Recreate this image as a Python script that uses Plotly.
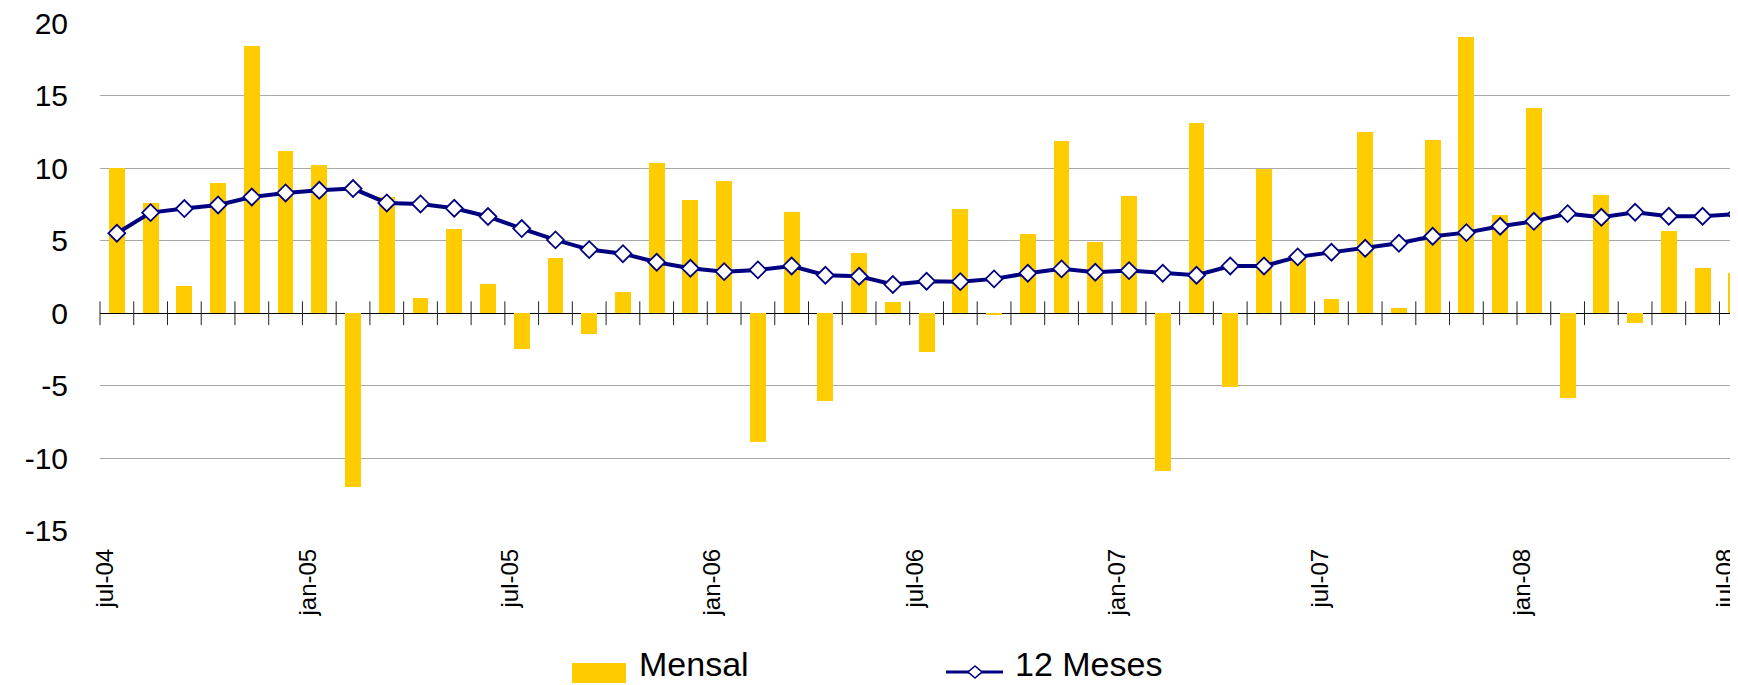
import plotly.graph_objects as go
import numpy as np

months = ['jul-04', 'ago-04', 'set-04', 'out-04', 'nov-04', 'dez-04',
          'jan-05', 'fev-05', 'mar-05', 'abr-05', 'mai-05', 'jun-05',
          'jul-05', 'ago-05', 'set-05', 'out-05', 'nov-05', 'dez-05',
          'jan-06', 'fev-06', 'mar-06', 'abr-06', 'mai-06', 'jun-06',
          'jul-06', 'ago-06', 'set-06', 'out-06', 'nov-06', 'dez-06',
          'jan-07', 'fev-07', 'mar-07', 'abr-07', 'mai-07', 'jun-07',
          'jul-07', 'ago-07', 'set-07', 'out-07', 'nov-07', 'dez-07',
          'jan-08', 'fev-08', 'mar-08', 'abr-08', 'mai-08', 'jun-08',
          'jul-08']

mensal = [10.0, 7.6, 1.9, 9.0, 18.4, 11.2,
          10.2, -12.0, 8.05, 1.06, 5.8, 2.0,
          -2.44, 3.8, -1.43, 1.45, 10.37, 7.82,
          9.1, -8.86, 6.99, -6.07, 4.18, 0.76,
          -2.64, 7.2, -0.1, 5.47, 11.86, 4.9,
          8.11, -10.9, 13.1, -5.06, 9.98, 3.9,
          0.99, 12.48, 0.37, 11.98, 19.03, 6.76,
          14.16, -5.86, 8.18, -0.64, 5.7, 3.13,
          2.78]

doze_meses = [5.52, 6.94, 7.22, 7.47, 8.02, 8.3,
              8.48, 8.6, 7.61, 7.54, 7.24, 6.67,
              5.84, 5.06, 4.39, 4.11, 3.52, 3.1,
              2.87, 2.99, 3.26, 2.62, 2.55, 1.98,
              2.21, 2.18, 2.37, 2.76, 3.06, 2.83,
              2.94, 2.76, 2.62, 3.26, 3.26, 3.89,
              4.21, 4.48, 4.83, 5.31, 5.56, 6.0,
              6.34, 6.87, 6.62, 6.97, 6.69, 6.69,
              6.83]

tick_labels = ['jul-04', 'jan-05', 'jul-05', 'jan-06', 'jul-06',
               'jan-07', 'jul-07', 'jan-08', 'jul-08']

y_ticks = [-15, -10, -5, 0, 5, 10, 15, 20]

# The page body has an 8px default margin: lay out in screen pixels, then shift.
OFF = 8
SW, SH = 1738, 685
W, H = SW - OFF, SH - OFF
S_LEFT, S_TOP, S_BOTTOM = 100, 23, 531   # plot area edges on screen
L = S_LEFT - OFF
T = S_TOP - OFF
B = H - (S_BOTTOM - OFF)
R = 0
PW, PH = W - L - R, H - T - B
FONT = 'Liberation Sans, Arial, sans-serif'

x = list(range(len(months)))
LABEL_SHIFT = 0.34
tickvals = [months.index(t) - LABEL_SHIFT for t in tick_labels]

fig = go.Figure()
fig.add_bar(x=x, y=mensal, name='Mensal', width=0.47,
            marker=dict(color='#FFCC00', line_width=0))
fig.add_scatter(x=np.arange(len(months) + 1) - 0.5, y=[0] * (len(months) + 1),
                mode='markers', cliponaxis=False, showlegend=False, hoverinfo='skip',
                marker=dict(symbol='line-ns', size=17, color='#222222',
                            line=dict(color='#222222', width=1)))
fig.add_scatter(x=x, y=doze_meses, name='12 Meses', mode='lines+markers',
                line=dict(color='#000080', width=4),
                marker=dict(symbol='diamond', size=13, color='white',
                            line=dict(color='#000080', width=1.8)))


def px(xs):
    return (xs - OFF - L) / PW


def py(ys):
    return (H - B - (ys - OFF)) / PH


shapes = [
    dict(type='rect', xref='paper', yref='paper', x0=px(572), x1=px(626),
         y0=py(683), y1=py(663), fillcolor='#FFCC00', line_width=0),
    dict(type='line', xref='paper', yref='paper', x0=px(946), x1=px(1003),
         y0=py(672), y1=py(672), line=dict(color='#000080', width=3)),
]
cx, cy, hw, hh = 975, 672, 7, 6
diamond = (f"M {px(cx - hw)},{py(cy)} L {px(cx)},{py(cy - hh)} "
           f"L {px(cx + hw)},{py(cy)} L {px(cx)},{py(cy + hh)} Z")
shapes.append(dict(type='path', xref='paper', yref='paper', path=diamond,
                   fillcolor='white', line=dict(color='#000080', width=1.6)))

annotations = [
    dict(text='Mensal', xref='paper', yref='paper', x=px(637), y=py(685),
         xanchor='left', yanchor='bottom', showarrow=False,
         font=dict(family=FONT, size=34, color='black')),
    dict(text='12 Meses', xref='paper', yref='paper', x=px(1013), y=py(685),
         xanchor='left', yanchor='bottom', showarrow=False,
         font=dict(family=FONT, size=34, color='black')),
]

fig.update_layout(
    width=W, height=H,
    margin=dict(l=L, r=R, t=T, b=B, pad=0, autoexpand=False),
    paper_bgcolor='white', plot_bgcolor='white',
    showlegend=False,
    bargap=0,
    shapes=shapes,
    annotations=annotations,
    xaxis=dict(range=[-0.5, 48.05], tickmode='array', tickvals=tickvals,
               ticktext=tick_labels, tickangle=-90, showgrid=False,
               zeroline=False, showline=False, ticks='',
               ticklabelstandoff=12, automargin=False,
               ticklabeloverflow='allow',
               tickfont=dict(family=FONT, size=24, color='black')),
    yaxis=dict(range=[-15.02, 20.02], tickmode='array', tickvals=y_ticks,
               ticktext=[str(v) for v in y_ticks],
               showgrid=True, gridcolor='#a8a8a8', gridwidth=1,
               zeroline=True, zerolinecolor='#000000', zerolinewidth=1,
               showline=False, ticks='', ticklabelstandoff=31, automargin=False,
               ticklabeloverflow='allow',
               tickfont=dict(family=FONT, size=30, color='black')),
)

fig.write_html('out.html')
